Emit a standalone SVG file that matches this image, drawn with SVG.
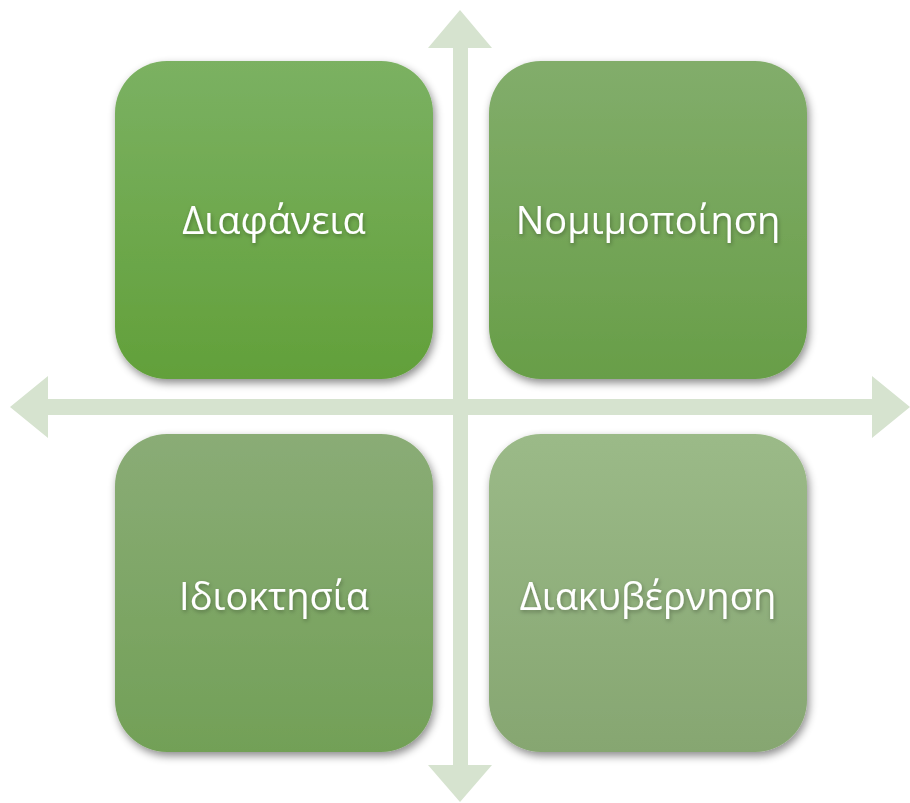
<svg xmlns="http://www.w3.org/2000/svg" width="910" height="803" viewBox="0 0 910 803">
<style>
.lbl{font-family:"Open Sans","Noto Sans","DejaVu Sans",sans-serif;font-size:38px;fill:#ffffff;text-anchor:middle}
.arr{fill:#d6e3cf}
</style>
<defs>
<filter id="sh" x="-10%" y="-10%" width="125%" height="125%">
<feDropShadow dx="2" dy="4" stdDeviation="4" flood-color="#000" flood-opacity="0.45"/>
</filter>
<filter id="tsh" x="-10%" y="-20%" width="120%" height="150%">
<feDropShadow dx="1" dy="2" stdDeviation="2" flood-color="#000" flood-opacity="0.3"/>
</filter>
<linearGradient id="g1" x1="0" y1="0" x2="0" y2="1"><stop offset="0" stop-color="#7bb162"/><stop offset="1" stop-color="#62a03a"/></linearGradient>
<linearGradient id="g2" x1="0" y1="0" x2="0" y2="1"><stop offset="0" stop-color="#82ad6b"/><stop offset="1" stop-color="#689e48"/></linearGradient>
<linearGradient id="g3" x1="0" y1="0" x2="0" y2="1"><stop offset="0" stop-color="#8aac76"/><stop offset="1" stop-color="#72a057"/></linearGradient>
<linearGradient id="g4" x1="0" y1="0" x2="0" y2="1"><stop offset="0" stop-color="#9bba88"/><stop offset="1" stop-color="#86a671"/></linearGradient>
</defs>
<g id="connectors">
<polygon class="arr" points="460,10 492,48 468,48 468,765 492,765 460,802 428,765 453,765 453,48 428,48"/>
<polygon class="arr" points="10,407 48,376 48,399 872,399 872,376 910,407 872,438 872,415 48,415 48,438"/>
</g>
<g id="n1"><rect x="115" y="61" width="318" height="318" rx="52" fill="url(#g1)" filter="url(#sh)"/><text class="lbl" x="274" y="234" filter="url(#tsh)">Διαφάνεια</text></g>
<g id="n2"><rect x="489" y="61" width="318" height="318" rx="52" fill="url(#g2)" filter="url(#sh)"/><text class="lbl" x="648" y="234" filter="url(#tsh)">Νομιμοποίηση</text></g>
<g id="n3"><rect x="115" y="434" width="318" height="318" rx="52" fill="url(#g3)" filter="url(#sh)"/><text class="lbl" x="274" y="610" filter="url(#tsh)">Ιδιοκτησία</text></g>
<g id="n4"><rect x="489" y="434" width="318" height="318" rx="52" fill="url(#g4)" filter="url(#sh)"/><text class="lbl" x="648" y="610" filter="url(#tsh)">Διακυβέρνηση</text></g>
</svg>
